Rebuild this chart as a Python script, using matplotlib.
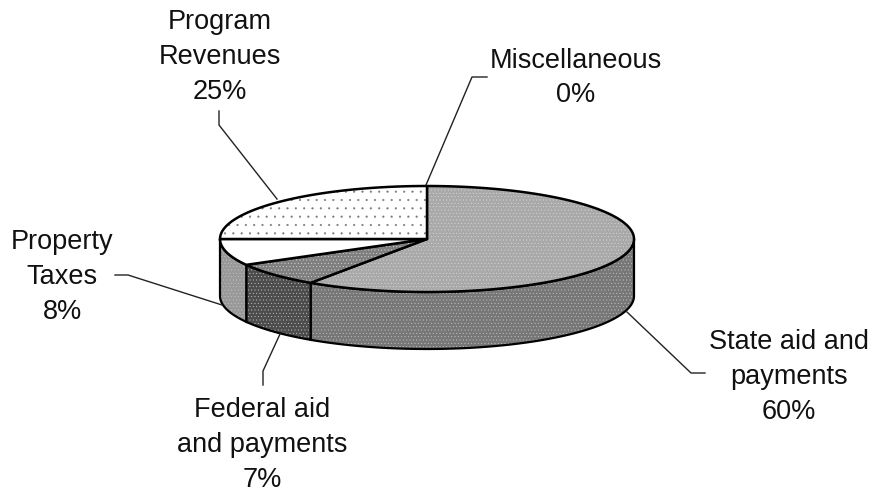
import numpy as np
import matplotlib
matplotlib.use("Agg")
import matplotlib.pyplot as plt
from matplotlib.patches import Polygon

# clockwise from 12 o'clock
categories = ["Miscellaneous", "State aid and\npayments", "Federal aid\nand payments",
              "Property\nTaxes", "Program\nRevenues"]
shares = [0.0, 59.5, 7.4, 8.1, 25.0]

top_colors = ["#ffffff", "#a9a9a9", "#7f7f7f", "#ffffff", "#ffffff"]
side_colors = ["#ffffff", "#777777", "#4c4c4c", "#999999", "#ffffff"]
top_hatches = [None, ".....", ".....", None, ".."]
side_hatches = [None, ".....", ".....", ".....", None]

# label centres and leader lines, in image pixels
label_pos = [(576, 78), (789, 377), (262, 445), (62, 277), (220, 57)]
leaders = [[(426, 185), (472, 77), (487, 77)],
           [(627, 312), (691, 373), (705, 373)],
           [(280, 334), (263, 371), (263, 385)],
           [(222, 305), (128, 275), (115, 275)],
           [(277, 199), (219, 125), (219, 111)]]

cx, cy = 427, 239
rx, ry = 207, 53
depth = 57


def rim(a0, a1, dy=0):
    t = np.radians(np.linspace(a0, a1, max(int(abs(a1 - a0)) * 2, 2)))
    return np.column_stack([cx + rx * np.sin(t), cy + dy - ry * np.cos(t)])


plt.rcParams['font.family'] = ['Liberation Sans', 'DejaVu Sans']
plt.rcParams['hatch.linewidth'] = 0.3

fig = plt.figure(figsize=(8.72, 4.92), dpi=100)
ax = fig.add_axes([0, 0, 1, 1])
ax.set_xlim(0, 872)
ax.set_ylim(492, 0)
ax.axis('off')

edges = np.concatenate([[0], np.cumsum(shares)]) * 3.6

# side walls, only the front half can be seen
for i in range(len(shares)):
    a0, a1 = max(edges[i], 90), min(edges[i + 1], 270)
    if a1 <= a0:
        continue
    pts = np.vstack([rim(a0, a1), rim(a0, a1, depth)[::-1]])
    ax.add_patch(Polygon(pts, closed=True, fc=side_colors[i], ec='none'))
    if side_hatches[i]:
        ax.add_patch(Polygon(pts, closed=True, fc='none', ec='#c4c4c4', lw=0,
                             hatch=side_hatches[i]))
    ax.add_patch(Polygon(pts, closed=True, fc='none', ec='black', lw=1.6))

# top faces
for i in range(len(shares)):
    if shares[i] == 0:
        continue
    pts = np.vstack([[(cx, cy)], rim(edges[i], edges[i + 1])])
    ax.add_patch(Polygon(pts, closed=True, fc=top_colors[i], ec='none'))
    if top_hatches[i]:
        hatch_col = '#777777' if top_colors[i] == "#ffffff" else '#d8d8d8'
        ax.add_patch(Polygon(pts, closed=True, fc='none', ec=hatch_col, lw=0,
                             hatch=top_hatches[i]))
    ax.add_patch(Polygon(pts, closed=True, fc='none', ec='black', lw=1.8, joinstyle='round'))

for i in range(len(shares)):
    xs, ys = zip(*leaders[i])
    ax.plot(xs, ys, color='#222222', lw=1.0, zorder=1)
    ax.text(label_pos[i][0], label_pos[i][1], f"{categories[i]}\n{shares[i]:.0f}%",
            ha='center', va='center', fontsize=19.5, linespacing=1.44, color='#111111')

fig.savefig("out.png", dpi=100)
